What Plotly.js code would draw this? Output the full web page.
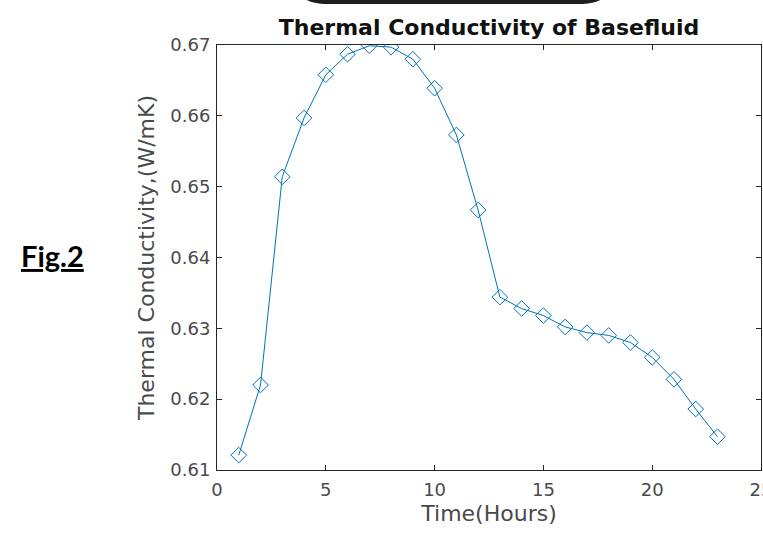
<!DOCTYPE html>
<html>
<head>
<meta charset="utf-8">
<script src="https://cdn.plot.ly/plotly-3.0.1.min.js"></script>
<style>
  html, body { margin: 0; padding: 0; background: #fff; }
  #wrap { position: relative; width: 763px; height: 535px; overflow: hidden; }
  #chart { width: 763px; height: 535px; }
  #topbar { position: absolute; left: 303px; top: -6px; width: 301px; height: 10px;
            background: #1e1e1e; border-radius: 0 0 26px 26px / 0 0 8px 8px; pointer-events: none; }
</style>
</head>
<body>
<div id="wrap">
  <div id="chart"></div>
  <div id="topbar"></div>
</div>
<script>
// Data
const hours = [1, 2, 3, 4, 5, 6, 7, 8, 9, 10, 11, 12, 13, 14, 15, 16, 17, 18, 19, 20, 21, 22, 23];
const conductivity = [0.6121, 0.6220, 0.6514, 0.6597, 0.6658, 0.6687, 0.6699, 0.6697, 0.6680, 0.6639,
                      0.6573, 0.6467, 0.6344, 0.6328, 0.6318, 0.6302, 0.6294, 0.6290, 0.6280, 0.6259,
                      0.6228, 0.6186, 0.6147];
const xTicks = [0, 5, 10, 15, 20, 25];
const yTicks = [0.61, 0.62, 0.63, 0.64, 0.65, 0.66, 0.67];
const chartTitle = 'Thermal Conductivity of Basefluid';
const xTitle = 'Time(Hours)';
const yTitle = 'Thermal Conductivity,(W/mK)';
const figLabel = 'Fig.2';

const blue = '#0072BD';
const axisColor = '#262626';
const textGray = '#4a4a4a';
const W = 763, H = 535;
const plotL = 217, plotR = 761, plotT = 45, plotB = 470;
const pw = plotR - plotL, ph = plotB - plotT;
const px = v => (v - plotL) / pw;
const py = v => (plotB - v) / ph;

const trace = {
  x: hours,
  y: conductivity,
  type: 'scatter',
  mode: 'lines+markers',
  line: { color: blue, width: 1 },
  marker: { symbol: 'diamond-open', size: 12, color: blue, line: { width: 1, color: blue } },
  hoverinfo: 'x+y'
};

const axisCommon = {
  showgrid: false,
  zeroline: false,
  showline: true,
  linecolor: axisColor,
  linewidth: 1,
  mirror: 'ticks',
  ticks: 'inside',
  ticklen: 5,
  tickcolor: axisColor,
  tickwidth: 1,
  ticklabeloverflow: 'allow',
  tickfont: { family: 'DejaVu Sans', size: 18, color: textGray }
};

const layout = {
  width: W,
  height: H,
  margin: { l: plotL, r: W - plotR, t: plotT, b: H - plotB },
  paper_bgcolor: '#fff',
  plot_bgcolor: '#fff',
  showlegend: false,
  title: {
    text: '<b>' + chartTitle + '</b>',
    font: { family: 'DejaVu Sans', size: 22, color: '#111' },
    x: 0.5, xref: 'paper', xanchor: 'center',
    y: 1 - 27 / H, yref: 'container', yanchor: 'middle'
  },
  xaxis: Object.assign({}, axisCommon, {
    range: [0, 25],
    tickvals: xTicks,
    ticktext: xTicks.map(String),
    ticklabelstandoff: 3,
    title: { text: xTitle, font: { family: 'DejaVu Sans', size: 22, color: textGray }, standoff: 7 }
  }),
  yaxis: Object.assign({}, axisCommon, {
    range: [0.61, 0.67],
    tickvals: yTicks,
    ticktext: yTicks.map(v => v.toFixed(2)),
    ticklabelstandoff: 2,
    title: { text: yTitle, font: { family: 'DejaVu Sans', size: 22, color: textGray }, standoff: 9 }
  }),
  annotations: [{
    text: '<b><u>' + figLabel + '</u></b>',
    xref: 'paper', yref: 'paper',
    x: px(52), y: py(255), xanchor: 'center', yanchor: 'middle',
    showarrow: false,
    font: { family: 'Lato', size: 29, color: '#000' }
  }]
};

Plotly.newPlot('chart', [trace], layout, { displayModeBar: false, staticPlot: true });
</script>
</body>
</html>
